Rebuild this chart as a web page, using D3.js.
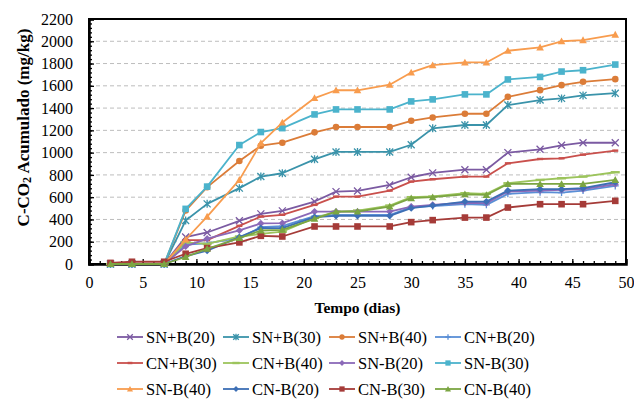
<!DOCTYPE html>
<html><head><meta charset="utf-8">
<script src="https://cdn.jsdelivr.net/npm/d3@7"></script>
<style>
body{margin:0;background:#fff;}
svg{display:block;font-family:"Liberation Serif","Times New Roman",serif;}
</style></head>
<body><svg id="c" width="634" height="399"></svg>
<script>
const days = [2,4,7,9,11,14,16,18,21,23,25,28,30,32,35,37,39,42,44,46,49];
const xTicks = [0,5,10,15,20,25,30,35,40,45,50];
const yTicks = [0,200,400,600,800,1000,1200,1400,1600,1800,2000,2200];

const snb20 = [0,0,0,242,283,388,450,477,561,650,656,710,779,818,847,847,1000,1030,1066,1089,1089];
const snb30 = [0,0,0,390,540,681,785,815,940,1006,1006,1006,1071,1218,1248,1248,1427,1472,1487,1514,1534];
const snb40 = [0,0,0,480,690,925,1062,1089,1182,1230,1230,1230,1286,1316,1349,1349,1501,1561,1606,1636,1660];
const cnb20 = [0,0,0,175,185,235,330,340,430,440,440,440,510,520,537,531,630,645,641,659,701];
const cnb30 = [0,0,0,215,215,343,426,442,531,605,605,659,740,761,785,785,904,943,949,982,1018];
const cnb40 = [0,0,0,195,180,247,270,290,413,471,480,525,600,606,636,630,725,755,770,785,824];
const snm20 = [0,0,0,158,227,301,364,367,471,471,471,471,516,531,550,547,651,660,665,672,716];
const snm30 = [0,0,0,495,695,1068,1185,1220,1343,1388,1388,1388,1460,1478,1523,1523,1657,1680,1728,1740,1791];
const snm40 = [0,0,0,220,425,755,1085,1270,1490,1560,1560,1610,1720,1785,1810,1810,1915,1945,2000,2010,2060];
const cnm20 = [0,0,0,70,119,242,322,322,421,433,433,433,501,525,561,561,659,672,672,681,734];
const cnm30 = [10,20,20,92,143,194,253,247,337,337,337,337,376,394,417,417,507,537,537,537,567];
const cnm40 = [0,0,0,63,137,233,301,307,406,471,471,516,591,600,626,620,719,719,719,719,755];

const seriesNames = ["SN+B(20)","SN+B(30)","SN+B(40)","CN+B(20)","CN+B(30)","CN+B(40)","SN-B(20)","SN-B(30)","SN-B(40)","CN-B(20)","CN-B(30)","CN-B(40)"];
const seriesValues = [snb20,snb30,snb40,cnb20,cnb30,cnb40,snm20,snm30,snm40,cnm20,cnm30,cnm40];
const seriesColors = ["#7B5AA2","#3A93AA","#DB7C38","#5A8FD6","#C9504C","#9CC45C","#8B69B8","#4BB3CC","#F89C4E","#3D6FB5","#A53B38","#7BA542"];
const seriesMarkers = ["x","asterisk","circle","plus","dash","longdash","diamond","square","triangle","diamond","square","triangle"];

const svg = d3.select("#c");
const L = 89, R = 626, T = 19, B = 264;
const x = d3.scaleLinear().domain([0,50]).range([L,R]);
const y = d3.scaleLinear().domain([0,2200]).range([B,T]);

// gridlines
svg.append("g").selectAll("line").data(yTicks.filter(v=>v>0&&v<2200)).join("line")
  .attr("x1",L).attr("x2",R).attr("y1",d=>y(d)).attr("y2",d=>y(d))
  .attr("stroke","#BDBDBD").attr("stroke-width",1).attr("stroke-dasharray","4,3");

// frame
svg.append("rect").attr("x",L).attr("y",T).attr("width",R-L).attr("height",B-T)
  .attr("fill","none").attr("stroke","#000").attr("stroke-width",2);

// axes
const yAxis = d3.axisLeft(y).tickValues(yTicks).tickSize(-5).tickPadding(16).tickFormat(d3.format("d"));
const gy = svg.append("g").attr("transform",`translate(${L},0)`).call(yAxis);
const yMinor = d3.axisLeft(y).tickValues(d3.range(0,2201,40)).tickSize(-3).tickFormat("");
svg.append("g").attr("transform",`translate(${L},0)`).call(yMinor).select(".domain").remove();
const xAxis = d3.axisBottom(x).tickValues(xTicks).tickSize(-5).tickPadding(13);
const gx = svg.append("g").attr("transform",`translate(0,${B})`).call(xAxis);
const xMinor = d3.axisBottom(x).tickValues(d3.range(0,51,1)).tickSize(-3).tickFormat("");
svg.append("g").attr("transform",`translate(0,${B})`).call(xMinor).select(".domain").remove();
svg.selectAll(".tick line").attr("stroke","#000").attr("stroke-width",1.3);
svg.selectAll(".domain").attr("stroke","#000").attr("stroke-width",2.5);
[gy,gx].forEach(g=>g.selectAll("text").attr("font-family","Liberation Serif").attr("font-size",16).attr("fill","#000"));

// axis titles
svg.append("text").attr("transform",`translate(23,${(T+B)/2 - 14}) rotate(-90)`)
  .attr("text-anchor","middle").attr("dominant-baseline","central")
  .attr("font-size",17).attr("font-weight","bold")
  .html('C-CO<tspan dy="4" font-size="12">2</tspan><tspan dy="-4"> Acumulado (mg/kg)</tspan>');
svg.append("text").attr("x",(L+R)/2).attr("y",313).attr("text-anchor","middle")
  .attr("font-size",15.5).attr("font-weight","bold").text("Tempo (dias)");

function marker(sel, type, color, s){
  s = s||1;
  if(type==="circle"){ sel.append("circle").attr("r",3.3*s).attr("fill",color); }
  else if(type==="square"){ sel.append("rect").attr("x",-3.3*s).attr("y",-3.3*s).attr("width",6.6*s).attr("height",6.6*s).attr("fill",color); }
  else if(type==="diamond"){ const a=3.6*s; sel.append("path").attr("d",`M0,${-a}L${a},0L0,${a}L${-a},0Z`).attr("fill",color); }
  else if(type==="triangle"){ const a=3.8*s; sel.append("path").attr("d",`M0,${-a}L${a},${a*0.8}L${-a},${a*0.8}Z`).attr("fill",color); }
  else if(type==="x"){ const a=3.5*s; sel.append("path").attr("d",`M${-a},${-a}L${a},${a}M${-a},${a}L${a},${-a}`).attr("stroke",color).attr("stroke-width",1.3).attr("fill","none"); }
  else if(type==="asterisk"){ const a=3.5*s; sel.append("path").attr("d",`M${-a},${-a}L${a},${a}M${-a},${a}L${a},${-a}M0,${-a-0.5}L0,${a+0.5}`).attr("stroke",color).attr("stroke-width",1.3).attr("fill","none"); }
  else if(type==="plus"){ const a=3.5*s; sel.append("path").attr("d",`M${-a},0L${a},0M0,${-a}L0,${a}`).attr("stroke",color).attr("stroke-width",1.3).attr("fill","none"); }
  else if(type==="dash"){ sel.append("rect").attr("x",-3*s).attr("y",-1.2).attr("width",6*s).attr("height",2.4).attr("fill",color); }
  else if(type==="longdash"){ sel.append("rect").attr("x",-4.5*s).attr("y",-1.2).attr("width",9*s).attr("height",2.4).attr("fill",color); }
}

const line = d3.line().x((d,i)=>x(days[i])).y(d=>y(d));
seriesNames.forEach((name,k)=>{
  const g = svg.append("g");
  g.append("path").attr("d",line(seriesValues[k])).attr("fill","none")
    .attr("stroke",seriesColors[k]).attr("stroke-width",1.8).attr("stroke-linejoin","round");
  seriesValues[k].forEach((v,i)=>{
    const m = g.append("g").attr("transform",`translate(${x(days[i])},${y(v)})`);
    marker(m, seriesMarkers[k], seriesColors[k], 1);
  });
});

// legend
const colX = [117,223,329,435];
const rowY = [337,363,389];
seriesNames.forEach((name,k)=>{
  const cx = colX[k%4], cy = rowY[Math.floor(k/4)];
  const g = svg.append("g").attr("transform",`translate(${cx},${cy})`);
  g.append("line").attr("x1",0).attr("x2",26).attr("y1",0).attr("y2",0)
    .attr("stroke",seriesColors[k]).attr("stroke-width",1.8);
  const m = g.append("g").attr("transform","translate(13,0)");
  marker(m, seriesMarkers[k], seriesColors[k], 0.8);
  g.append("text").attr("x",29).attr("y",0).attr("dominant-baseline","central")
    .attr("font-size",16.5).attr("fill","#000").text(name);
});
</script></body></html>
